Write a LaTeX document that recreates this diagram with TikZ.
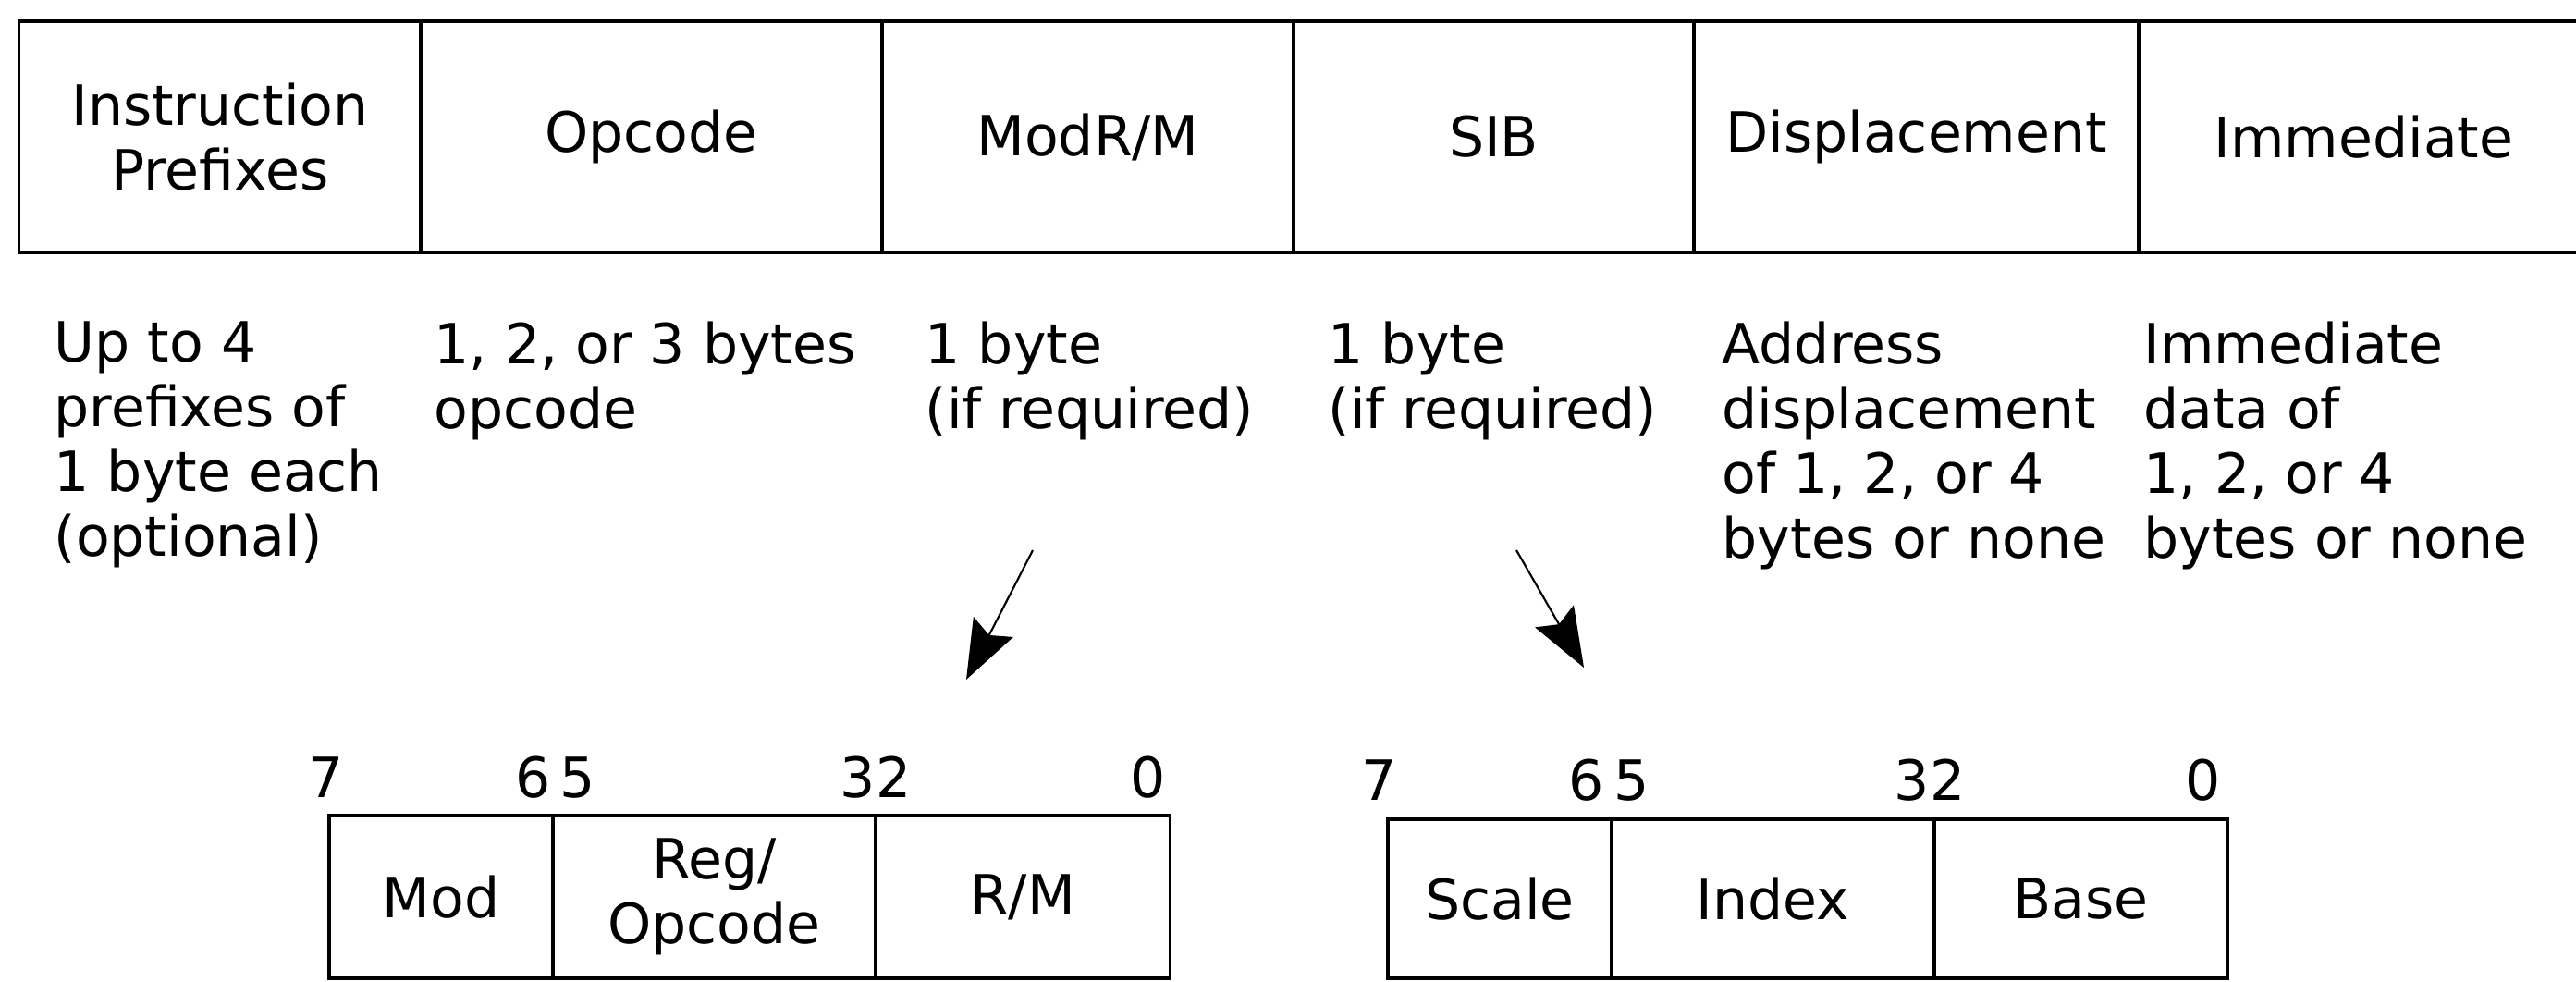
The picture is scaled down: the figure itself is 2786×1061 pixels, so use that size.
\documentclass[tikz,border=0pt]{standalone}
\usepackage{fontspec}
\setmainfont{DejaVu Sans}
\usetikzlibrary{arrows.meta}
\begin{document}
\begin{tikzpicture}[x=0.01cm,y=-0.01cm,
  every node/.style={font=\fontsize{17.07pt}{19.9pt}\selectfont},
  cell/.style={draw, line width=0.9pt, inner sep=0pt, align=center},
  topcell/.style={cell, minimum height=2.50cm},
  desc/.style={anchor=north west, inner sep=0pt, align=left},
  bit/.style={anchor=base, inner sep=0pt},
  ptr/.style={line width=0.6pt, -{Stealth[length=0.64cm,width=0.48cm,inset=0.1cm]}}]
\useasboundingbox (0,0) rectangle (2786,1061);
\clip (0,0) rectangle (2786,1061);
% top instruction format
\node[topcell, minimum width=4.34cm] (pfx) at (238,148) {Instruction\\Prefixes};
\node[topcell, minimum width=4.99cm] (opc) at (704.5,148) {Opcode};
\node[topcell, minimum width=4.45cm] (modrm) at (1176.5,148) {ModR/M};
\node[topcell, minimum width=4.33cm] (sib) at (1615.5,148) {SIB};
\node[topcell, minimum width=4.81cm] (disp) at (2072.5,148) {Displacement};
\node[topcell, minimum width=4.87cm] (imm) at (2556.5,148) {Immediate};
% descriptions
\node[desc] (dpfx) at (58,347) {Up to 4\\prefixes of\\1 byte each\\(optional)};
\node[desc] (dopc) at (469,347) {1, 2, or 3 bytes\\opcode};
\node[desc] (dmodrm) at (1000,347) {1 byte\\(if required)};
\node[desc] (dsib) at (1436,347) {1 byte\\(if required)};
\node[desc] (ddisp) at (1862,347) {Address\\displacement\\of 1, 2, or 4\\bytes or none};
\node[desc] (dimm) at (2318,347) {Immediate\\data of\\1, 2, or 4\\bytes or none};
% arrows
\coordinate (a1s) at (1117,595);
\coordinate (a1e) at (1045,735);
\coordinate (a2s) at (1640,595);
\coordinate (a2e) at (1713,722);
\draw[ptr] (a1s) -- (a1e);
\draw[ptr] (a2s) -- (a2e);
% ModR/M byte
\node[cell, minimum width=2.42cm, minimum height=1.76cm] (mod) at (477,970) {Mod};
\node[cell, minimum width=3.49cm, minimum height=1.76cm] (reg) at (772.5,970) {Reg/\\Opcode};
\node[cell, minimum width=3.18cm, minimum height=1.76cm] (rm) at (1106,970) {R/M};
\node[bit] (m7) at (353,862) {7};
\node[bit, anchor=base east] (m6) at (596,862) {6};
\node[bit, anchor=base west] (m5) at (605,862) {5};
\node[bit] (m32) at (947,862) {32};
\node[bit] (m0) at (1242,862) {0};
% SIB byte
\node[cell, minimum width=2.42cm, minimum height=1.72cm] (scale) at (1622,972) {Scale};
\node[cell, minimum width=3.49cm, minimum height=1.72cm] (index) at (1917.5,972) {Index};
\node[cell, minimum width=3.17cm, minimum height=1.72cm] (base) at (2250.5,972) {Base};
\node[bit] (s7) at (1492,865) {7};
\node[bit, anchor=base east] (s6) at (1735,865) {6};
\node[bit, anchor=base west] (s5) at (1745,865) {5};
\node[bit] (s32) at (2087,865) {32};
\node[bit] (s0) at (2383,865) {0};
\end{tikzpicture}
\end{document}
